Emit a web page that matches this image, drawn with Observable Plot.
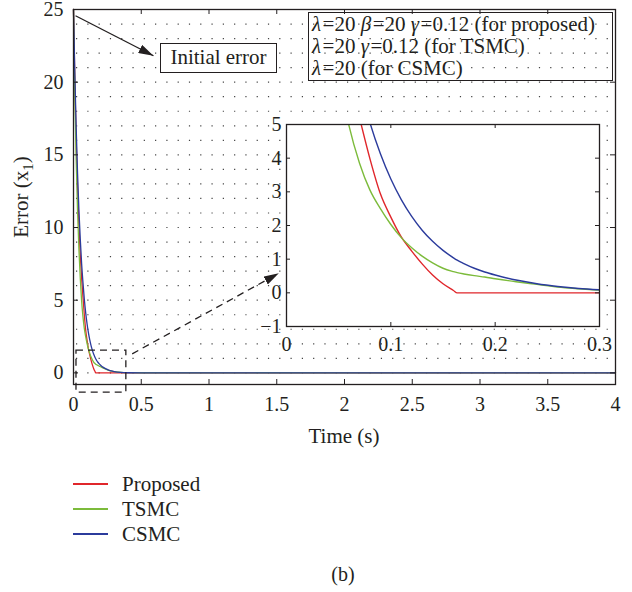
<!DOCTYPE html>
<html>
<head>
<meta charset="utf-8">
<script src="https://cdn.jsdelivr.net/npm/d3@7"></script>
<script src="https://cdn.jsdelivr.net/npm/@observablehq/plot@0.6"></script>
<style>
  html, body { margin: 0; padding: 0; background: #fff; }
  #fig { position: relative; width: 632px; height: 592px; background: #fff;
         font-family: "Liberation Serif", "DejaVu Serif", serif; color: #231f20; }
  #fig > * { position: absolute; }
  .box { box-sizing: border-box; border: 1.3px solid #231f20; font-size: 21px; }
  .box i { padding-right: 1.5px; }
  .legend-row { position: absolute; left: 0; height: 24px; width: 200px; font-size: 21px; line-height: 24px; }
  .legend-row .sw { position: absolute; left: 73px; top: 11px; width: 35px; height: 1.6px; }
  .legend-row .lb { position: absolute; left: 122px; top: 0; }
</style>
</head>
<body>
<div id="fig"></div>
<script>
// Tracking error x1 for the three controllers (seconds, error units)
const time     = [0, 0.01, 0.02, 0.03, 0.04, 0.05, 0.06, 0.07, 0.08, 0.09, 0.10, 0.11, 0.12, 0.13, 0.14, 0.15, 0.16, 0.1636, 0.17, 0.18, 0.19, 0.20, 0.22, 0.24, 0.26, 0.28, 0.30, 0.35, 0.40, 0.50, 4];
const proposed = [25, 20.0, 15.9, 12.7, 10.2, 8.1, 6.5, 5.2, 3.98, 2.94, 2.25, 1.66, 1.24, 0.86, 0.53, 0.27, 0.07, 0, 0, 0, 0, 0, 0, 0, 0, 0, 0, 0, 0, 0, 0];
const tsmc     = [25, 19.1, 14.6, 11.1, 8.5, 6.5, 4.95, 3.85, 3.05, 2.5, 2.03, 1.64, 1.34, 1.09, 0.89, 0.73, 0.63, 0.60, 0.56, 0.51, 0.47, 0.42, 0.33, 0.25, 0.17, 0.12, 0.08, 0.04, 0.02, 0.01, 0];
const csmc     = [25, 20.5, 16.8, 13.7, 11.2, 9.2, 7.5, 6.2, 5.05, 4.13, 3.38, 2.77, 2.27, 1.86, 1.53, 1.26, 1.04, 0.97, 0.87, 0.73, 0.62, 0.53, 0.38, 0.27, 0.19, 0.13, 0.09, 0.03, 0.01, 0, 0];

const seriesNames  = ["Proposed", "TSMC", "CSMC"];
const seriesColors = ["#e0262b", "#7cbb3b", "#2b3b9c"];

const mainTimeTicks  = [0, 0.5, 1, 1.5, 2, 2.5, 3, 3.5, 4];
const mainErrorTicks = [0, 5, 10, 15, 20, 25];
const insetTimeTicks  = [0, 0.1, 0.2, 0.3];
const insetErrorTicks = [-1, 0, 1, 2, 3, 4, 5];

const mainTime = [0, 4], mainError = [-0.8, 25];
const insetTime = [0, 0.3], insetError = [-1, 5];

// Window around the settling phase that the inset enlarges
const zoomWindow = [{x1: 0.022, x2: 0.39, y1: -1.36, y2: 1.53}];
// Pointer arrows: "Initial error" callout and zoom connector
const initialArrow = [{x1: 0.015, y1: 24.57, x2: 0.59, y2: 21.82}];
const zoomArrow = [{x1: 0.433, y1: 1.31, x2: 1.515, y2: 6.85}];

const ink = "#231f20";
const font = "'Liberation Serif', 'DejaVu Serif', serif";

const series = [proposed, tsmc, csmc];
const rows = seriesNames.flatMap((name, k) =>
  time.map((t, i) => ({t, e: series[k][i], series: name})));

const fmt = d => (d < 0 ? "\u2212" + Math.abs(d) : String(d));

function inwardTicks(xt, yt, xd, yd, len) {
  return [
    Plot.ruleX(xt, {x: d => d, y1: yd[0], y2: yd[0], insetTop: -len, stroke: ink}),
    Plot.ruleX(xt, {x: d => d, y1: yd[1], y2: yd[1], insetBottom: -len, stroke: ink}),
    Plot.ruleY(yt, {y: d => d, x1: xd[0], x2: xd[0], insetRight: -len, stroke: ink}),
    Plot.ruleY(yt, {y: d => d, x1: xd[1], x2: xd[1], insetLeft: -len, stroke: ink})
  ];
}

const fig = document.getElementById("fig");

// Main panel
const main = Plot.plot({
  width: 632, height: 460,
  marginLeft: 73, marginRight: 17, marginTop: 9, marginBottom: 76,
  x: {domain: mainTime, label: null},
  y: {domain: mainError, label: null},
  color: {domain: seriesNames, range: seriesColors},
  style: {fontFamily: font, fontSize: "20px", color: ink, background: "transparent", overflow: "visible"},
  marks: [
    Plot.ruleY(d3.range(0, 25), {x1: mainTime[0], x2: mainTime[1], stroke: "#444", strokeWidth: 1.2,
      strokeDasharray: "1.2,10.09", strokeDashoffset: -3}),
    Plot.line(rows, {x: "t", y: "e", z: "series", stroke: "series", strokeWidth: 1.3, curve: "monotone-x"}),
    Plot.frame({stroke: ink, strokeWidth: 1.3}),
    ...inwardTicks(mainTimeTicks, mainErrorTicks, mainTime, mainError, 5),
    Plot.axisX(mainTimeTicks, {tickSize: 0, tickPadding: 12, tickFormat: fmt, label: null}),
    Plot.axisY(mainErrorTicks, {tickSize: 0, tickPadding: 10, tickFormat: fmt, label: null}),
    Plot.rect(zoomWindow, {x1: "x1", x2: "x2", y1: "y1", y2: "y2", fill: "none", stroke: ink,
      strokeWidth: 1.3, strokeDasharray: "7,5"}),
    Plot.link(initialArrow, {x1: "x1", y1: "y1", x2: "x2", y2: "y2", stroke: ink, strokeWidth: 1.3}),
    Plot.link(zoomArrow, {x1: "x1", y1: "y1", x2: "x2", y2: "y2", stroke: ink, strokeWidth: 1.3,
      strokeDasharray: "7,5"})
  ]
});
main.style.left = "0px"; main.style.top = "0px";
fig.appendChild(main);

// Filled arrowheads on the two pointer lines
const msvg = d3.select(main);
msvg.append("defs").append("marker")
  .attr("id", "head").attr("viewBox", "0 0 15 9")
  .attr("refX", 15).attr("refY", 4.5)
  .attr("markerUnits", "userSpaceOnUse")
  .attr("markerWidth", 15).attr("markerHeight", 9)
  .attr("orient", "auto")
  .append("path").attr("d", "M0,0L15,4.5L0,9Z").attr("fill", ink);
msvg.selectAll("g[aria-label=link] path").attr("marker-end", "url(#head)");

// Axis titles
msvg.append("text")
  .attr("x", 344).attr("y", 443)
  .attr("text-anchor", "middle")
  .attr("font-size", 21).attr("font-family", font).attr("fill", ink)
  .text("Time (s)");
const yl = msvg.append("text")
  .attr("transform", "translate(28,197) rotate(-90)")
  .attr("text-anchor", "middle")
  .attr("font-size", 21).attr("font-family", font).attr("fill", ink);
yl.append("tspan").text("Error (x");
yl.append("tspan").attr("font-size", 15).attr("dy", 5).text("1");
yl.append("tspan").attr("dy", -5).text(")");

// Inset panel
const inset = Plot.plot({
  width: 380, height: 250,
  marginLeft: 46, marginRight: 21, marginTop: 16, marginBottom: 32,
  x: {domain: insetTime, label: null},
  y: {domain: insetError, label: null},
  color: {domain: seriesNames, range: seriesColors},
  style: {fontFamily: font, fontSize: "20px", color: ink, background: "transparent", overflow: "visible"},
  marks: [
    Plot.frame({fill: "white"}),
    Plot.line(rows.filter(d => d.t <= insetTime[1]), {x: "t", y: "e", z: "series", stroke: "series",
      strokeWidth: 1.4, curve: "monotone-x", clip: true}),
    Plot.frame({stroke: ink, strokeWidth: 1.3}),
    ...inwardTicks(insetTimeTicks, insetErrorTicks, insetTime, insetError, 4),
    Plot.axisX(insetTimeTicks, {tickSize: 0, tickPadding: 10, tickFormat: fmt, label: null}),
    Plot.axisY(insetErrorTicks, {tickSize: 0, tickPadding: 5, tickFormat: fmt, label: null})
  ]
});
inset.style.left = "240px"; inset.style.top = "108px";
fig.appendChild(inset);

// Callout box
const callout = document.createElement("div");
callout.className = "box";
Object.assign(callout.style, {left: "160px", top: "43px", width: "117px", height: "30px",
  background: "#fff", textAlign: "center", lineHeight: "27px"});
callout.textContent = "Initial error";
fig.appendChild(callout);

// Parameter box
const params = document.createElement("div");
params.className = "box";
Object.assign(params.style, {left: "308px", top: "12px", width: "305px", height: "69px",
  lineHeight: "22px", paddingLeft: "3px", whiteSpace: "nowrap", fontSize: "21px"});
params.innerHTML =
  "<i>\u03bb</i>=20 <i>\u03b2</i>=20 <i>\u03b3</i>=0.12 (for proposed)<br>" +
  "<i>\u03bb</i>=20 <i>\u03b3</i>=0.12 (for TSMC)<br>" +
  "<i>\u03bb</i>=20 (for CSMC)";
fig.appendChild(params);

// Legend
const legendTop = [472, 497, 522];
seriesNames.forEach((name, k) => {
  const row = document.createElement("div");
  row.className = "legend-row";
  row.style.top = legendTop[k] + "px";
  const sw = document.createElement("div");
  sw.className = "sw";
  sw.style.background = seriesColors[k];
  const lb = document.createElement("div");
  lb.className = "lb";
  lb.textContent = name;
  row.append(sw, lb);
  fig.appendChild(row);
});

// Panel caption
const cap = document.createElement("div");
Object.assign(cap.style, {left: "0px", width: "686px", top: "563px", textAlign: "center", fontSize: "20px"});
cap.textContent = "(b)";
fig.appendChild(cap);
</script>
</body>
</html>
